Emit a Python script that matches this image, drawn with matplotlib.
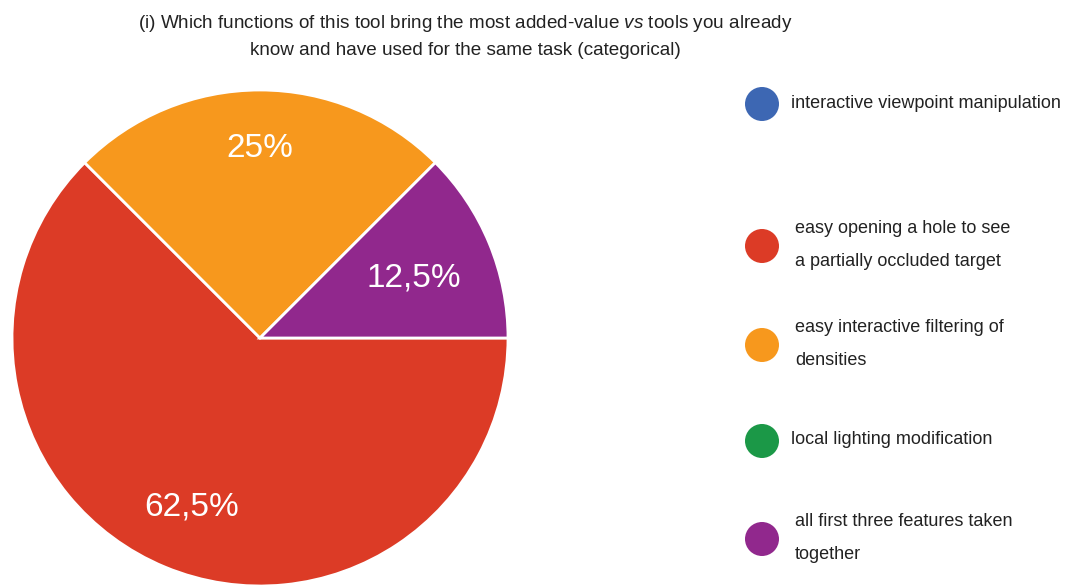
import numpy as np
import matplotlib
matplotlib.use("Agg")
import matplotlib.pyplot as plt
from matplotlib.patches import Circle

# Survey answers (share of respondents, %)
categories = [
    "interactive viewpoint manipulation",
    "easy opening a hole to see\na partially occluded target",
    "easy interactive filtering of\ndensities",
    "local lighting modification",
    "all first three features taken\ntogether",
]
shares = [0.0, 62.5, 25.0, 0.0, 12.5]
colors = ["#3d67b3", "#dc3b26", "#f7981d", "#1b9847", "#91288d"]
title = ("(i) Which functions of this tool bring the most added-value $\\it{vs}$ tools you already\n"
         "know and have used for the same task (categorical)")

plt.rcParams["mathtext.fontset"] = "custom"
plt.rcParams["mathtext.it"] = "Liberation Sans:italic"
plt.rcParams["mathtext.rm"] = "Liberation Sans"

W, H = 1065, 585
fig = plt.figure(figsize=(W / 100, H / 100), dpi=100)
fig.patch.set_facecolor("white")

sans = ["Liberation Sans Narrow", "Liberation Sans", "DejaVu Sans"]

# Pie
cx, cy, r = 260, 338, 248
ax = fig.add_axes([(cx - r) / W, (H - cy - r) / H, 2 * r / W, 2 * r / H])
ax.set_aspect("equal")
ax.axis("off")

nz = [(v, c) for v, c in zip(shares, colors) if v > 0]
wedges, _ = ax.pie([v for v, _ in nz], colors=[c for _, c in nz],
                   startangle=0, counterclock=False, radius=1.0,
                   wedgeprops=dict(edgecolor="white", linewidth=2))
ax.set_xlim(-1, 1)
ax.set_ylim(-1, 1)

label_r = {62.5: 0.72, 25.0: 0.78, 12.5: 0.67}
for w, (v, _) in zip(wedges, nz):
    mid = np.deg2rad((w.theta1 + w.theta2) / 2)
    rr = label_r.get(v, 0.72)
    txt = (f"{v:g}".replace(".", ",")) + "%"
    ax.text(rr * np.cos(mid), rr * np.sin(mid) - 0.016, txt, ha="center", va="center",
            color="white", fontsize=24, family=["Liberation Sans", "DejaVu Sans"])

# Title
fig.text(465 / W, 1 - 36 / H, title, ha="center", va="center", fontsize=13.6,
         family=sans, color="#222222", linespacing=1.55)

# Legend
lax = fig.add_axes([0, 0, 1, 1])
lax.set_xlim(0, W)
lax.set_ylim(H, 0)
lax.axis("off")
lax.patch.set_alpha(0)
dot_y = [104, 246, 345, 441, 539]
for lab, col, y in zip(categories, colors, dot_y):
    lax.add_patch(Circle((762, y), 17, color=col, lw=0))
    two = "\n" in lab
    lax.text(795 if two else 791, y - 1, lab,
             ha="left", va="center", fontsize=13.0, family=sans,
             color="#222222", linespacing=2.3)

fig.savefig("out.png", dpi=100, facecolor="white")
